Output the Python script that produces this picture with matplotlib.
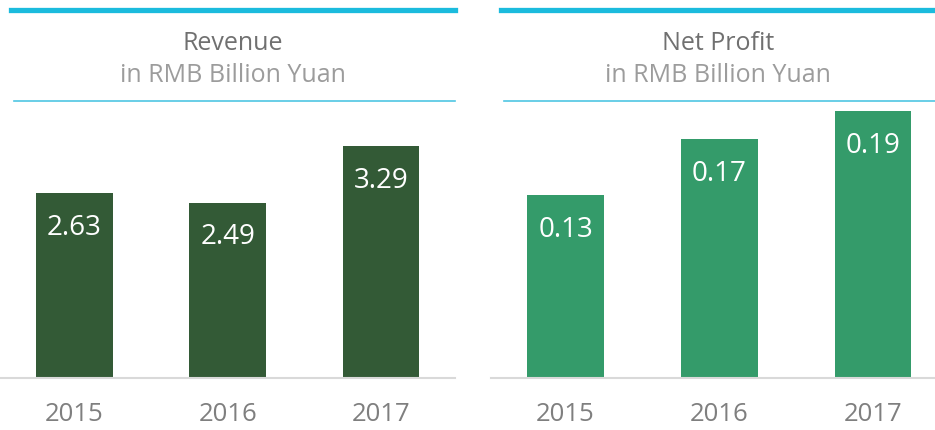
import matplotlib.pyplot as plt
from matplotlib.lines import Line2D

years = ['2015', '2016', '2017']
revenue = [2.63, 2.49, 3.29]
profit = [0.13, 0.17, 0.19]

W, H = 935, 430
fig = plt.figure(figsize=(W / 100, H / 100), dpi=100)


def fx(px):
    return px / W


def fy(py):
    return 1 - py / H


def panel(x0, x1, vals, ymax, xlim, color, title, lx0, tx0, fmt):
    ax = fig.add_axes([fx(x0), fy(378), fx(x1 - x0), fy(101) - fy(378)])
    ax.bar(range(len(vals)), vals, width=0.5, color=color)
    ax.set_xlim(*xlim)
    ax.set_ylim(0, ymax)
    for s in ['top', 'right', 'left']:
        ax.spines[s].set_visible(False)
    ax.spines['bottom'].set_color('#d9d9d9')
    ax.spines['bottom'].set_linewidth(1.5)
    ax.set_yticks([])
    ax.set_xticks(range(len(vals)))
    ax.set_xticklabels(years, fontsize=18.5, color='#7f7f7f', family='Open Sans')
    ax.tick_params(axis='x', length=0, pad=17)
    for i, v in enumerate(vals):
        ax.annotate(fmt.format(v), (i, v), xytext=(0, -25), textcoords='offset points',
                    ha='center', va='center', color='white', fontsize=20,
                    family='Open Sans')
    # header lines
    fig.add_artist(Line2D([fx(tx0), fx(x1)], [fy(10), fy(10)], color='#1bbbdd', lw=3.8))
    fig.add_artist(Line2D([fx(lx0), fx(x1)], [fy(101), fy(101)], color='#4fc6e3', lw=1.2))
    cx = fx((tx0 + x1) / 2)
    fig.text(cx, fy(43), title, ha='center', va='center', fontsize=18,
             color='#707070', family='Open Sans')
    fig.text(cx, fy(76), 'in RMB Billion Yuan', ha='center', va='center', fontsize=18,
             color='#9c9c9c', family='Open Sans')
    return ax


panel(0, 455, revenue, 277 / 70.4, (-0.486, 2.483), '#335a36', 'Revenue', 14, 11, '{:.2f}')
panel(491, 935, profit, 277 / 1404, (-0.4846, 2.403), '#349b6a', 'Net Profit', 504, 501, '{:.2f}')

fig.savefig('out.png', dpi=100)
